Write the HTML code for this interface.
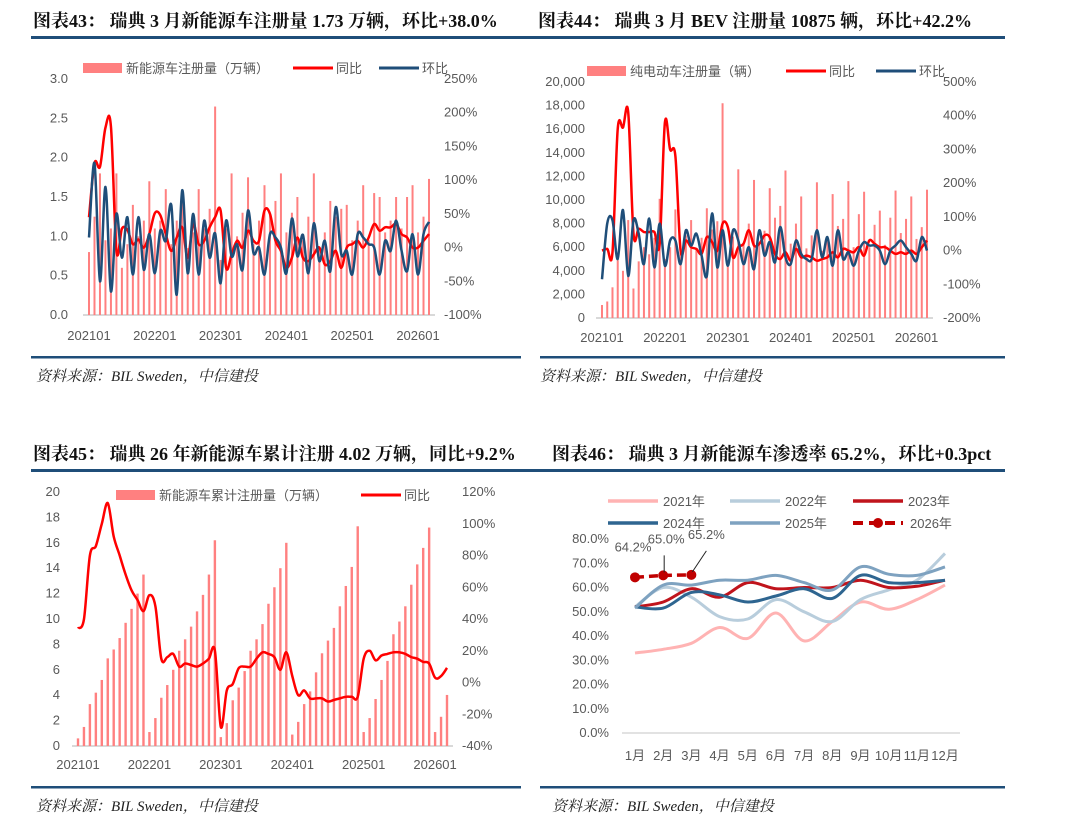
<!DOCTYPE html>
<html><head><meta charset="utf-8">
<style>
html,body{margin:0;padding:0;background:#fff;}
svg{display:block;}
.t{font-family:"Liberation Serif","Noto Serif CJK SC",serif;font-weight:bold;font-size:18px;fill:#111;}
.s{font-family:"Liberation Serif","Noto Serif CJK SC",serif;font-style:italic;font-size:15px;fill:#222;}
.a{font-family:"Liberation Sans","Noto Sans CJK SC",sans-serif;font-size:13px;fill:#595959;}
.l{font-family:"Liberation Sans","Noto Sans CJK SC",sans-serif;font-size:13px;fill:#595959;}
</style></head>
<body>
<svg id="root" width="1080" height="835" viewBox="0 0 1080 835" xmlns="http://www.w3.org/2000/svg">
<g>
<text class="t" x="33" y="27">图表43：  瑞典 3 月新能源车注册量 1.73 万辆，环比+38.0%</text>
<text class="t" x="538" y="27">图表44：  瑞典 3 月 BEV 注册量 10875 辆，环比+42.2%</text>
<rect x="31" y="36" width="974" height="3" fill="#1f4e79"/>
<rect x="31" y="356" width="490" height="2.5" fill="#1f4e79"/>
<rect x="540" y="356" width="465" height="2.5" fill="#1f4e79"/>
<text class="s" x="36" y="381">资料来源：BIL Sweden，中信建投</text>
<text class="s" x="540" y="381">资料来源：BIL Sweden，中信建投</text>
<text class="t" x="33" y="460">图表45：  瑞典 26 年新能源车累计注册 4.02 万辆，同比+9.2%</text>
<text class="t" x="552" y="460">图表46：  瑞典 3 月新能源车渗透率 65.2%，环比+0.3pct</text>
<rect x="31" y="469" width="974" height="3" fill="#1f4e79"/>
<rect x="31" y="786" width="490" height="2.5" fill="#1f4e79"/>
<rect x="540" y="786" width="465" height="2.5" fill="#1f4e79"/>
<text class="s" x="36" y="811">资料来源：BIL Sweden，中信建投</text>
<text class="s" x="552" y="811">资料来源：BIL Sweden，中信建投</text>
</g>
</svg>
<script>
// ---- Chart 43 data ----
const nevMonthly = [0.8,1.25,1.8,0.95,1.1,1.8,0.6,0.9,1.4,1.0,1.2,1.7, 1.1,1.2,1.6,0.9,1.2,1.45,0.85,1.05,1.6,1.1,1.35,2.65, 0.7,1.1,1.8,1.0,1.3,1.75,0.9,1.2,1.65,1.3,1.45,1.8, 1.05,1.3,1.5,0.95,1.25,1.8,0.85,1.05,1.45,1.25,1.35,1.4, 0.95,1.2,1.65,0.95,1.55,1.5,1.05,1.2,1.5,1.1,1.5,1.65, 1.05,1.25,1.73];
const nevYoY = [45,125,120,178,180,-5,28,26,5,12,0,20, 51,48,20,-5,15,30,-15,35,5,10,30,45, 55,-30,-10,10,0,25,10,10,55,50,10,-5, -30,-15,15,-15,-20,-10,0,-25,-20,-5,-30,0, 5,10,0,15,35,25,30,30,35,20,15,0, 0,10,20];
const nevMoM = [15,125,-50,90,-65,50,-15,45,-40,45,-33,20, -38,25,10,63,-70,85,-38,50,-40,40,-15,21, -53,40,-13,5,-33,55,-8,0,-40,20,15,0, -38,43,-13,19,-38,36,-20,10,-35,60,-10,-5, -40,20,15,5,0,-40,10,-5,40,-5,-35,20, -40,20,38];
const ticks43L = ["0.0","0.5","1.0","1.5","2.0","2.5","3.0"];
const ticks43R = ["-100%","-50%","0%","50%","100%","150%","200%","250%"];
// ---- Chart 44 data ----
const bevMonthly = [1100,1400,2600,4900,4000,8300,2500,4800,6000,5400,6800,10100, 5000,6000,9200,5600,7000,8300,5800,6800,9300,7500,8200,18200, 4400,6900,12600,6300,8000,11700,6200,7400,11000,8500,9500,12500, 6300,8000,10300,5900,7000,11500,5700,6900,10500,7800,8400,11600, 6000,8800,10700,6000,7900,9100,6200,8500,10800,7200,8400,10300, 6700,7700,10875];
const bevYoY = [0,5,-5,360,365,410,50,65,55,55,55,20, 380,300,280,0,30,10,5,-10,40,25,0,80, 70,-20,10,20,60,15,20,45,40,-10,-25,-5, -30,5,-20,-15,-20,-30,-25,-20,-5,-20,5,0, -5,10,-15,30,20,10,10,0,-10,-5,-10,0, -10,10,30];
const bevMoM = [-85,80,90,-25,120,-75,90,50,-40,95,-50,80, -45,30,30,-40,60,15,50,-15,-75,110,-50,60, -45,60,30,-40,10,-55,60,-15,25,-35,70,-20, -40,30,-10,-25,-25,60,-20,40,-45,60,-25,-5, -45,0,25,15,15,0,-40,0,15,30,10,-10, -30,40,0];
const ticks44L = ["0","2,000","4,000","6,000","8,000","10,000","12,000","14,000","16,000","18,000","20,000"];
const ticks44R = ["-200%","-100%","0%","100%","200%","300%","400%","500%"];
// ---- Chart 45 data ----
const nevCum = [0.6,1.5,3.3,4.2,5.2,6.9,7.6,8.5,9.7,10.8,12.0,13.5, 1.1,2.2,3.8,4.8,6.0,7.5,8.4,9.4,10.6,11.9,13.5,16.2, 0.7,1.8,3.6,4.6,5.9,7.5,8.4,9.6,11.2,12.5,14.0,16.0, 0.9,1.9,3.3,4.3,5.8,7.3,8.3,9.3,11.0,12.6,14.1,17.3, 1.1,2.2,3.7,5.2,6.7,8.8,9.8,11.0,12.7,14.3,15.6,17.2, 1.1,2.3,4.02];
const cumYoY = [34,40,80,86,100,113,92,80,68,58,52,45, 55,48,15,16,18,10,12,11,10,12,15,20, -28,-5,-1,9,10,10,15,19,18,16,8,19, 4,-8,-5,-10,-10,-10,-12,-11,-10,-9,-9,-9, 15,20,14,17,18,19,19,18,16,15,13,12, 3,4,9.2];
const ticks45L = ["0","2","4","6","8","10","12","14","16","18","20"];
const ticks45R = ["-40%","-20%","0%","20%","40%","60%","80%","100%","120%"];
const monthLabels = ["202101","202201","202301","202401","202501","202601"];
// ---- Chart 46 data ----
const months46 = ["1月","2月","3月","4月","5月","6月","7月","8月","9月","10月","11月","12月"];
const pen2021 = [33,34.5,37,43.5,39,49.5,38,46,54,51,55,61];
const pen2022 = [52,60,56,48,47,55,50,46,55,59,63,74];
const pen2023 = [52,54,59.5,56,62,59.5,60,60,63,60,60.5,63];
const pen2024 = [52,51.5,58,57,54,56.5,59.5,55.5,65,62,62,63];
const pen2025 = [51.5,61,61,63,63,65,62,59,68.5,65.5,65,68.5];
const pen2026 = [64.2,65.0,65.2];
const ticks46 = ["0.0%","10.0%","20.0%","30.0%","40.0%","50.0%","60.0%","70.0%","80.0%"];

const NS="http://www.w3.org/2000/svg";
const root=document.getElementById('root');
function mk(tag,attrs,parent){const e=document.createElementNS(NS,tag);for(const k in attrs)e.setAttribute(k,attrs[k]);(parent||root).appendChild(e);return e;}
function txt(x,y,s,cls,anchor,parent){const t=mk('text',{x:x,y:y,class:cls,'text-anchor':anchor||'start'},parent);t.textContent=s;return t;}
function smooth(pts){let d='M'+pts[0][0].toFixed(1)+','+pts[0][1].toFixed(1);for(let i=0;i<pts.length-1;i++){const p0=pts[i-1]||pts[i],p1=pts[i],p2=pts[i+1],p3=pts[i+2]||p2;const c1=[p1[0]+(p2[0]-p0[0])/6,p1[1]+(p2[1]-p0[1])/6],c2=[p2[0]-(p3[0]-p1[0])/6,p2[1]-(p3[1]-p1[1])/6];d+=' C'+c1[0].toFixed(1)+','+c1[1].toFixed(1)+' '+c2[0].toFixed(1)+','+c2[1].toFixed(1)+' '+p2[0].toFixed(1)+','+p2[1].toFixed(1);}return d;}

function combo(c){
  const g=mk('g',{});
  
  
  const n=c.bars.length;
  const xs=i=>c.x0+i*(c.x1-c.x0)/(n-1);
  const yL=v=>c.yb-(v-c.lMin)/(c.lMax-c.lMin)*(c.yb-c.yt);
  const yR=v=>c.yb-(v-c.rMin)/(c.rMax-c.rMin)*(c.yb-c.yt);
  const axis=mk('line',{x1:c.x0-6,x2:c.x1+6,y1:c.yb,y2:c.yb,stroke:'#d9d9d9','stroke-width':2},g);
  
  
  c.bars.forEach((v,i)=>{
    const r=mk('rect',{x:xs(i)-c.bw/2,y:yL(v),width:c.bw,height:c.yb-yL(v),fill:'#ff8080'},g);
    
    
  });
  c.lines.forEach(L=>{
    const p=mk('path',{d:smooth(L.data.map((v,i)=>[xs(i),yR(v)])),fill:'none',stroke:L.color,'stroke-width':2.5},g);
    
    
  });
  c.tL.forEach((s,i)=>{const t=txt(c.lx,yL(c.lMin+i*(c.lMax-c.lMin)/(c.tL.length-1))+4,s,'a','end',g);
    
    });
  c.tR.forEach((s,i)=>{const t=txt(c.rx,yR(c.rMin+i*(c.rMax-c.rMin)/(c.tR.length-1))+4,s,'a','start',g);
    
    });
  monthLabels.forEach((s,i)=>{const t=txt(xs(i*12),c.xly,s,'a','middle',g);
    
    });
  c.legend.forEach(L=>{
    const lg=mk('g',{},g);
    
    
    if(L.bar) mk('rect',{x:L.x,y:c.ly-5,width:39,height:10,fill:'#ff8080'},lg);
    else mk('line',{x1:L.x,x2:L.x+40,y1:c.ly,y2:c.ly,stroke:L.color,'stroke-width':3},lg);
    txt(L.x+43,c.ly+5,L.label,'l','start',lg);
  });
}

combo({name:'chart43-nev-registrations',bars:nevMonthly,x0:89,x1:429,yb:315,yt:79,lMin:0,lMax:3,rMin:-100,rMax:250,bw:2,
  lines:[{data:nevYoY,color:'#ff0000',name:'yoy-line'},{data:nevMoM,color:'#1f4e79',name:'mom-line'}],
  tL:ticks43L,tR:ticks43R,lx:68,rx:444,xly:340,ly:68,
  legend:[{bar:true,x:83,label:'新能源车注册量（万辆）'},{x:293,color:'#ff0000',label:'同比'},{x:379,color:'#1f4e79',label:'环比'}]});
combo({name:'chart44-bev-registrations',bars:bevMonthly,x0:602,x1:927,yb:318,yt:82,lMin:0,lMax:20000,rMin:-200,rMax:500,bw:2,
  lines:[{data:bevYoY,color:'#ff0000',name:'yoy-line'},{data:bevMoM,color:'#1f4e79',name:'mom-line'}],
  tL:ticks44L,tR:ticks44R,lx:585,rx:943,xly:342,ly:71,
  legend:[{bar:true,x:587,label:'纯电动车注册量（辆）'},{x:786,color:'#ff0000',label:'同比'},{x:876,color:'#1f4e79',label:'环比'}]});
combo({name:'chart45-nev-cumulative',bars:nevCum,x0:78,x1:447,yb:746,yt:492,lMin:0,lMax:20,rMin:-40,rMax:120,bw:2.4,
  lines:[{data:cumYoY,color:'#ff0000',name:'cumulative-yoy-line'}],
  tL:ticks45L,tR:ticks45R,lx:60,rx:462,xly:769,ly:495,
  legend:[{bar:true,x:116,label:'新能源车累计注册量（万辆）'},{x:361,color:'#ff0000',label:'同比'}]});

// chart 46
(function(){
  const g=mk('g',{});
  
  
  const x=i=>635+i*(945-635)/11;
  const y=v=>733-v/80*(733-539);
  const ax=mk('line',{x1:622,x2:960,y1:733,y2:733,stroke:'#d9d9d9','stroke-width':1.5},g);
  
  
  ticks46.forEach((s,i)=>{const t=txt(609,y(i*10)+4,s,'a','end',g);
    
    });
  months46.forEach((s,i)=>{const t=txt(x(i),760,s,'a','middle',g);
    
    });
  const series=[[pen2021,'#ffb3b3','2021年'],[pen2022,'#b8cddc','2022年'],[pen2023,'#c0141c','2023年'],[pen2024,'#2e6590','2024年'],[pen2025,'#7ea2c0','2025年']];
  series.forEach(S=>{const p=mk('path',{d:smooth(S[0].map((v,i)=>[x(i),y(v)])),fill:'none',stroke:S[1],'stroke-width':3},g);
    
    });
  const p26=mk('path',{d:'M'+pen2026.map((v,i)=>x(i)+','+y(v)).join(' L'),fill:'none',stroke:'#c00000','stroke-width':3.5,'stroke-dasharray':'9,5'},g);
  
  
  const lbl=[[-2,-26],[3,-32],[15,-36]];
  pen2026.forEach((v,i)=>{
    const c=mk('circle',{cx:x(i),cy:y(v),r:5,fill:'#c00000'},g);
    
    
    if(i>0){const ln=mk('line',{x1:x(i)+1,y1:y(v)-3,x2:x(i)+lbl[i][0]+(i==2?0:-2),y2:y(v)+lbl[i][1]+12,stroke:'#222','stroke-width':1},g);
      
      }
    const t=txt(x(i)+lbl[i][0],y(v)+lbl[i][1],v.toFixed(1)+'%','a','middle',g);
    
    
  });
  const leg=[[608,501,'#ffb3b3','2021年'],[730,501,'#b8cddc','2022年'],[853,501,'#c0141c','2023年'],[608,523,'#2e6590','2024年'],[730,523,'#7ea2c0','2025年']];
  leg.forEach(L=>{const lg=mk('g',{},g);
    
    
    mk('line',{x1:L[0],x2:L[0]+50,y1:L[1],y2:L[1],stroke:L[2],'stroke-width':3.5},lg);
    txt(L[0]+55,L[1]+5,L[3],'l','start',lg);});
  const lg=mk('g',{},g);
  
  
  mk('line',{x1:853,x2:903,y1:523,y2:523,stroke:'#c00000','stroke-width':4,'stroke-dasharray':'10,6'},lg);
  mk('circle',{cx:878,cy:523,r:5,fill:'#c00000'},lg);
  txt(910,528,'2026年','l','start',lg);
})();
</script>
</body></html>
